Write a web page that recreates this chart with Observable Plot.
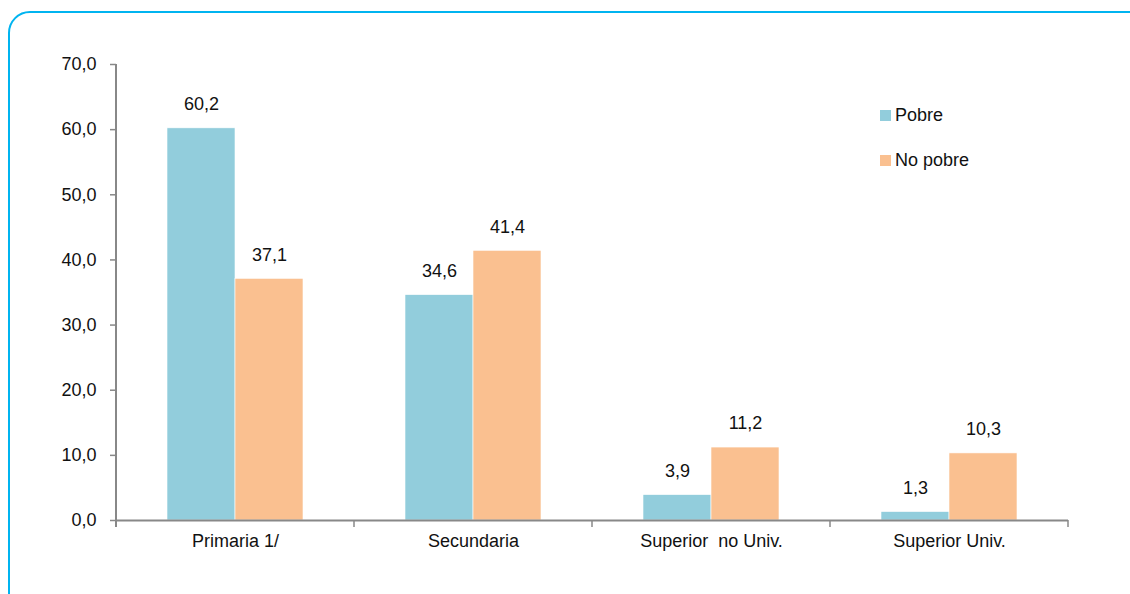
<!DOCTYPE html>
<html>
<head>
<meta charset="utf-8">
<script src="https://cdn.jsdelivr.net/npm/d3@7"></script>
<script src="https://cdn.jsdelivr.net/npm/@observablehq/plot@0.6"></script>
<style>
  html, body { margin: 0; padding: 0; background: #fff; overflow: hidden; }
  #wrap { position: relative; width: 1130px; height: 594px; font-family: "Liberation Sans", Arial, sans-serif; }
  #border { position: absolute; left: 8px; top: 11px; width: 1160px; height: 620px; border: 2px solid #00B4F0; border-radius: 22px; box-sizing: border-box; }
  #chart { position: absolute; left: 0; top: 0; }
  .legend { position: absolute; left: 880px; font-size: 18px; color: #111; display: flex; align-items: center; }
  .legend span.sw { display: inline-block; width: 11px; height: 11px; margin-right: 4px; }
</style>
</head>
<body>
<div id="wrap">
  <div id="border"></div>
  <div id="chart"></div>
  <div id="legend"></div>
</div>
<script>
const categories = ["Primaria 1/", "Secundaria", "Superior  no Univ.", "Superior Univ."];
const series = ["Pobre", "No pobre"];
const pobre = [60.2, 34.6, 3.9, 1.3];
const noPobre = [37.1, 41.4, 11.2, 10.3];
const colors = ["#92CDDC", "#FAC090"];
const yTicks = [0, 10, 20, 30, 40, 50, 60, 70];

const data = [];
categories.forEach((c, i) => {
  data.push({cat: c, serie: series[0], value: pobre[i]});
  data.push({cat: c, serie: series[1], value: noPobre[i]});
});
const fmt = d => d.toFixed(1).replace(".", ",");

const chart = Plot.plot({
  width: 1130,
  height: 594,
  marginLeft: 116,
  marginRight: 62,
  marginTop: 64,
  marginBottom: 74,
  style: {fontFamily: "'Liberation Sans', Arial, sans-serif", fontSize: "18px", color: "#111", background: "transparent", overflow: "visible"},
  fx: {domain: categories, padding: 0, label: null},
  x: {domain: series, paddingInner: 0, paddingOuter: 0.75, axis: null},
  y: {domain: [0, 70], label: null},
  color: {domain: series, range: colors},
  marks: [
    Plot.barY(data, {fx: "cat", x: "serie", y: "value", fill: "serie", inset: 0, stroke: "#fff", strokeWidth: 0.6}),
    Plot.text(data, {fx: "cat", x: "serie", y: "value", text: d => fmt(d.value), dy: -24, fontSize: 18, fill: "#111"}),
    Plot.ruleY([0], {stroke: "#888", strokeWidth: 2}),
    Plot.axisY({ticks: yTicks, tickFormat: fmt, tickSize: 6, tickPadding: 14, stroke: "#888", strokeWidth: 1.5, fill: "#111", label: null, fontSize: 18}),
    Plot.axisFx({tickSize: 0, tickPadding: 14, label: null, fontSize: 18, fill: "#111", anchor: "bottom"})
  ]
});
document.getElementById("chart").appendChild(chart);

// boundary ticks on the x axis between category bands
const fx = chart.scale("fx");
const y = chart.scale("y");
const svg = d3.select(chart);
const bounds = categories.map(c => fx.apply(c)).concat([fx.apply(categories[categories.length - 1]) + fx.bandwidth]);
svg.append("g").selectAll("line").data(bounds).join("line")
  .attr("x1", d => d).attr("x2", d => d)
  .attr("y1", y.apply(0)).attr("y2", y.apply(0) + 7)
  .attr("stroke", "#888").attr("stroke-width", 1.5);
// y axis line
svg.append("line")
  .attr("x1", bounds[0]).attr("x2", bounds[0])
  .attr("y1", y.apply(70)).attr("y2", y.apply(0) + 7)
  .attr("stroke", "#888").attr("stroke-width", 2);

// legend
const lg = document.getElementById("legend");
series.forEach((s, i) => {
  const div = document.createElement("div");
  div.className = "legend";
  div.style.top = (105 + i * 45) + "px";
  div.innerHTML = `<span class="sw" style="background:${colors[i]}"></span>${s}`;
  lg.appendChild(div);
});
</script>
</body>
</html>
